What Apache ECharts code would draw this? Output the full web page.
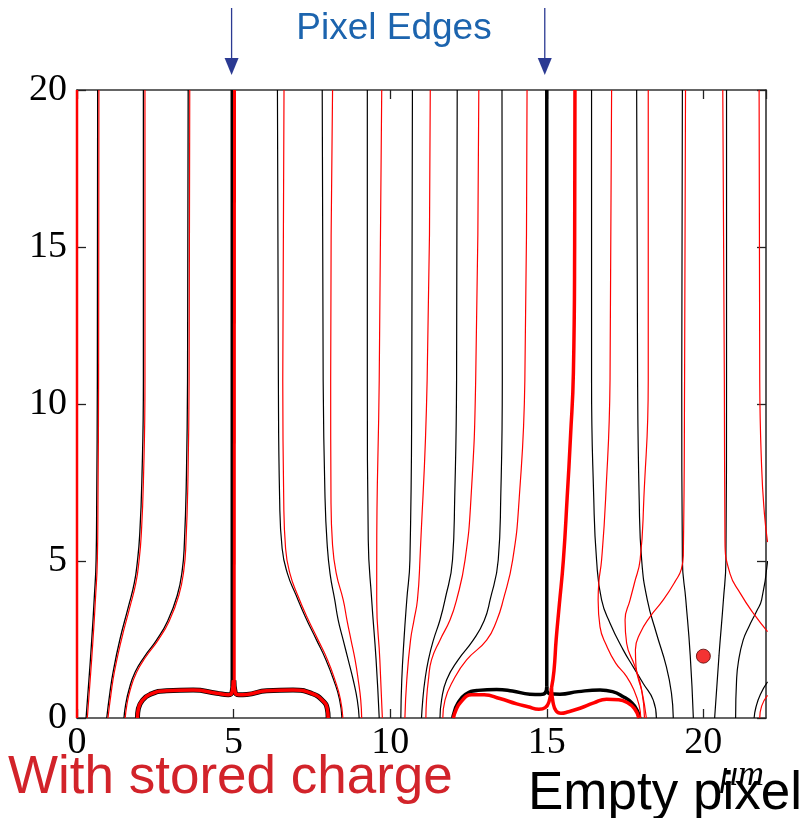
<!DOCTYPE html>
<html><head><meta charset="utf-8">
<script src="https://cdn.jsdelivr.net/npm/echarts@6/dist/echarts.min.js"></script>
<style>html,body{margin:0;padding:0;background:#fff}#c{width:801px;height:818px}</style>
</head><body><div id="c"></div><script>
// ---------- axis setup ----------
const xTicks = [0, 5, 10, 15, 20];
const yTicks = [0, 5, 10, 15, 20];
const pixelEdges = [5, 15];
const storedChargeDot = [[20.0, 1.97]];

// ---------- left pixel (with stored charge: black under red) ----------
const redAxisLine = [[0, 0], [0, 20]];
const black1 = [[0.66,20],[0.65,10.76],[0.63,7],[0.61,5.03],[0.55,3.8],[0.47,2.48],[0.38,1.2],[0.29,0]];
const red1   = [[0.70,20],[0.69,10.76],[0.67,7],[0.65,5.03],[0.59,3.8],[0.51,2.48],[0.42,1.2],[0.33,0]];
const black2 = [[2.12,20],[2.12,10.76],[2.07,7.5],[2.0,5.8],[1.93,5.0],[1.83,4.3],[1.64,3.54],[1.37,2.5],[1.16,1.5],[1.05,0.8],[0.95,0]];
const red2   = [[2.17,20],[2.17,10.76],[2.12,7.5],[2.05,5.8],[1.98,5.0],[1.88,4.3],[1.69,3.54],[1.42,2.5],[1.2,1.5],[1.09,0.8],[0.99,0]];
const black3 = [[3.55,20],[3.53,10.76],[3.49,7.5],[3.43,5.6],[3.36,4.7],[3.2,3.9],[2.9,3.1],[2.54,2.48],[2.15,1.95],[1.85,1.45],[1.66,0.9],[1.55,0.4],[1.5,0]];
const red3   = [[3.60,20],[3.58,10.76],[3.54,7.5],[3.48,5.6],[3.41,4.7],[3.25,3.9],[2.95,3.1],[2.59,2.48],[2.2,1.95],[1.9,1.45],[1.7,0.9],[1.59,0.4],[1.54,0]];
const blackEdge5 = [[4.95,20],[4.95,1.0]];
const redEdge5   = [[5.03,20],[5.02,1.0]];
const loopA_left  = [[1.93,0],[1.96,0.3],[2.08,0.55],[2.33,0.75],[2.86,0.87],[3.71,0.89],[4.46,0.79],[4.83,0.74],[4.95,0.82],[4.99,1.2]];
const loopA_right = [[5.01,1.2],[5.05,0.82],[5.17,0.74],[5.42,0.75],[6.06,0.87],[6.9,0.89],[7.5,0.78],[7.85,0.55],[7.99,0.3],[8.02,0]];

// ---------- middle lines ----------
const black4 = [[6.40,20],[6.43,10.76],[6.47,7],[6.55,5.4],[6.72,4.6],[7.0,3.9],[7.3,3.2],[7.65,2.48],[7.95,1.85],[8.2,1.2],[8.38,0.6],[8.46,0]];
const red4   = [[6.61,20],[6.57,10.76],[6.6,7],[6.66,5.4],[6.8,4.6],[7.05,3.9],[7.35,3.2],[7.7,2.48],[8.0,1.85],[8.24,1.2],[8.41,0.6],[8.49,0]];
const black5 = [[7.83,20],[7.86,10.76],[7.92,7],[7.99,5.5],[8.08,4.6],[8.23,3.76],[8.34,3.12],[8.5,2.48],[8.66,1.85],[8.82,1.21],[8.95,0.57],[9.01,0]];
const red5   = [[8.16,20],[8.1,10.76],[8.11,7],[8.16,5.5],[8.28,4.6],[8.5,3.76],[8.62,3.12],[8.75,2.48],[8.88,1.85],[8.98,1.21],[9.06,0.57],[9.09,0]];
const black6 = [[9.27,20],[9.27,10.76],[9.30,5.67],[9.41,3.76],[9.55,1.85],[9.65,0]];
const red6   = [[9.73,20],[9.65,10.76],[9.57,5.03],[9.57,3.76],[9.67,1.85],[9.75,0]];
const black7 = [[10.71,20],[10.69,10.76],[10.63,5.03],[10.53,3.76],[10.44,2.48],[10.37,1.21],[10.34,0]];
const red7   = [[11.28,20],[11.18,10.76],[10.95,5.03],[10.87,3.76],[10.76,3.12],[10.65,2.48],[10.53,1.21],[10.47,0]];
const black8 = [[12.14,20],[12.12,10.76],[12.06,7],[11.99,5.03],[11.75,3.76],[11.59,3.12],[11.38,2.48],[11.22,1.85],[11.11,1.21],[11.04,0.57],[11.0,0]];
const red8   = [[12.83,20],[12.73,10.76],[12.58,7],[12.39,5.03],[12.12,3.76],[11.91,3.12],[11.59,2.48],[11.32,1.85],[11.22,1.21],[11.16,0.57],[11.14,0]];
const black9 = [[13.57,20],[13.58,10.76],[13.53,7],[13.45,5.03],[13.19,3.76],[13.0,3.1],[12.65,2.48],[12.17,1.85],[11.8,1.21],[11.64,0.57],[11.59,0]];
const red9   = [[14.37,20],[14.3,10.76],[14.12,7],[13.91,5.03],[13.61,3.76],[13.4,3.1],[13.08,2.48],[12.44,1.85],[12.02,1.21],[11.75,0.57],[11.68,0]];

// ---------- right pixel (empty: black) vs stored charge (red) ----------
const blackEdge15 = [[15.0,20],[15.0,1.0]];
const loopB_black_left  = [[15.0,1.0],[14.95,0.8],[14.8,0.75],[14.46,0.76],[13.9,0.86],[13.4,0.91],[12.8,0.88],[12.4,0.75],[12.15,0.45],[12.02,0.1],[12.0,0]];
const loopB_black_right = [[15.0,1.0],[15.07,0.78],[15.42,0.76],[16.0,0.84],[16.7,0.89],[17.1,0.84],[17.44,0.68],[17.72,0.48],[17.88,0.25],[17.97,0]];
const redEdgeShifted = [[15.9,20],[15.89,15],[15.85,11],[15.76,9],[15.65,7],[15.53,5.03],[15.4,3.6],[15.3,2.5],[15.23,1.5],[15.15,0.95]];
const loopB_red_left  = [[15.15,0.95],[15.08,0.55],[14.95,0.33],[14.75,0.28],[14.4,0.36],[14.04,0.45],[13.5,0.62],[13.0,0.74],[12.6,0.74],[12.25,0.5],[12.08,0.2],[12.02,0]];
const loopB_red_right = [[15.15,0.95],[15.2,0.5],[15.3,0.22],[15.45,0.15],[15.7,0.2],[16.06,0.31],[16.5,0.48],[16.91,0.6],[17.3,0.58],[17.55,0.5],[17.8,0.3],[17.94,0]];
const blackA = [[16.43,20],[16.43,10.76],[16.5,7],[16.59,5.03],[16.75,3.76],[17.02,3.02],[17.44,2.17],[17.76,1.63],[18.08,1.1],[18.4,0.57],[18.5,0]];
const redA   = [[17.07,20],[17.02,10.76],[16.88,7],[16.75,5.03],[16.66,4.3],[16.64,3.76],[16.7,2.9],[16.91,2.3],[17.2,1.75],[17.55,1.32],[17.8,0.85],[17.95,0.4],[18.0,0]];
const blackB = [[17.87,20],[17.9,10.76],[17.95,7],[18.03,5.03],[18.21,3.76],[18.5,2.7],[18.82,1.63],[18.98,0.8],[19.04,0]];
const redB   = [[18.24,20],[18.24,10.76],[18.1,7],[17.98,5.03],[17.8,4.3],[17.66,3.76],[17.5,3.12],[17.55,2.38],[17.82,1.63],[18.03,0.89],[18.12,0]];
const blackC = [[19.33,20],[19.31,10.76],[19.33,5.03],[19.44,3.76],[19.58,2],[19.68,0]];
const redC   = [[19.43,20],[19.4,10.76],[19.36,5.2],[19.3,4.75],[19.1,4.35],[18.72,3.76],[18.3,3.23],[17.98,2.7],[17.83,2.17],[17.85,1.63],[18.05,0.79],[18.18,0]];
const blackD = [[20.74,20],[20.74,10.76],[20.72,5.03],[20.64,3.76],[20.5,2],[20.36,0]];
const redD   = [[20.62,20],[20.67,10.76],[20.69,5.67],[20.85,4.6],[21.18,3.97],[21.6,3.33],[22.05,2.75]];
const redE   = [[21.78,20],[21.8,10.76],[21.86,8],[21.95,6.5],[22.05,5.6]];
const blackE = [[22.05,5.0],[21.86,3.76],[21.7,3.4],[21.45,2.9],[21.27,2.48],[21.12,1.8],[21.06,1.2],[21.03,0]];
const blackArc = [[22.05,1.15],[21.82,0.75],[21.68,0.35],[21.62,0]];
const redArc   = [[22.05,0.72],[21.86,0.38],[21.8,0]];

const RED = '#ff0000', BLACK = '#000000';
function ln(data, color, width, z) {
  return { type: 'line', data: data, smooth: 0.5, symbol: 'none', silent: true,
    lineStyle: { color: color, width: width }, z: z, animation: false };
}
const series = [
  ln(redAxisLine, RED, 2.5, 3),
  ln(black1, BLACK, 1.3, 2), ln(red1, RED, 1.2, 3),
  ln(black2, BLACK, 1.3, 2), ln(red2, RED, 1.2, 3),
  ln(black3, BLACK, 1.3, 2), ln(red3, RED, 1.2, 3),
  ln(blackEdge5, BLACK, 3, 2), ln(redEdge5, RED, 3, 3),
  ln(loopA_left, BLACK, 5, 2), ln(loopA_right, BLACK, 5, 2),
  ln(loopA_left, RED, 3.5, 3), ln(loopA_right, RED, 3.5, 3),
  ln(black4, BLACK, 1.2, 2), ln(red4, RED, 1.2, 3),
  ln(black5, BLACK, 1.2, 2), ln(red5, RED, 1.2, 3),
  ln(black6, BLACK, 1.2, 2), ln(red6, RED, 1.2, 3),
  ln(black7, BLACK, 1.2, 2), ln(red7, RED, 1.2, 3),
  ln(black8, BLACK, 1.2, 2), ln(red8, RED, 1.2, 3),
  ln(black9, BLACK, 1.2, 2), ln(red9, RED, 1.2, 3),
  ln(blackEdge15, BLACK, 3.5, 2),
  ln(loopB_black_left, BLACK, 3.5, 2), ln(loopB_black_right, BLACK, 3.5, 2),
  ln(redEdgeShifted, RED, 3.5, 4),
  ln(loopB_red_left, RED, 3.5, 4), ln(loopB_red_right, RED, 3.5, 4),
  ln(blackA, BLACK, 1.2, 2), ln(redA, RED, 1.2, 3),
  ln(blackB, BLACK, 1.2, 2), ln(redB, RED, 1.2, 3),
  ln(blackC, BLACK, 1.2, 2), ln(redC, RED, 1.2, 3),
  ln(blackD, BLACK, 1.2, 2), ln(redD, RED, 1.2, 3),
  ln(blackE, BLACK, 1.2, 2), ln(redE, RED, 1.2, 3),
  ln(blackArc, BLACK, 1.2, 2), ln(redArc, RED, 1.2, 3),
  { type: 'scatter', data: storedChargeDot, symbolSize: 14, z: 6, silent: true, animation: false,
    itemStyle: { color: '#f00000', borderColor: '#550000', borderWidth: 1 } }
];

const axisCommon = {
  axisLine: { show: true, onZero: false, lineStyle: { color: '#333', width: 1.6 } },
  axisTick: { show: true, inside: true, length: 9, lineStyle: { color: '#222', width: 1.3 } },
  splitLine: { show: false }
};
const labelFont = { fontFamily: 'Liberation Serif', fontSize: 38, color: '#000' };

const chart = echarts.init(document.getElementById('c'), null, { renderer: 'canvas' });
chart.setOption({
  animation: false,
  grid: { left: 77, right: 35, top: 90, bottom: 100, containLabel: false },
  xAxis: [
    Object.assign({ type: 'value', min: 0, max: 22, interval: 5, position: 'bottom',
      axisLabel: Object.assign({ margin: 6, showMaxLabel: false, formatter: v => xTicks.includes(v) ? String(v) : '' }, labelFont) }, axisCommon),
    Object.assign({ type: 'value', min: 0, max: 22, interval: 5, position: 'top',
      axisLabel: { show: false } }, axisCommon)
  ],
  yAxis: [
    Object.assign({ type: 'value', min: 0, max: 20, interval: 5, position: 'left',
      axisLabel: Object.assign({ margin: 10, formatter: v => yTicks.includes(v) ? String(v) : '' }, labelFont) }, axisCommon),
    Object.assign({ type: 'value', min: 0, max: 20, interval: 5, position: 'right',
      axisLabel: { show: false } }, axisCommon)
  ],
  series: series
});

// annotations
const graphics = [];
pixelEdges.forEach(function (v) {
  const px = chart.convertToPixel({ xAxisIndex: 0 }, v) - 2;
  graphics.push({ type: 'line', shape: { x1: px, y1: 8, x2: px, y2: 60 }, style: { stroke: '#2b3a92', lineWidth: 1.3 }, z: 10 });
  graphics.push({ type: 'polygon', shape: { points: [[px - 7, 58], [px + 7, 58], [px, 75]] }, style: { fill: '#2b3a92' }, z: 10 });
});
graphics.push({ type: 'text', x: 394, y: 29, z: 10,
  style: { text: 'Pixel Edges', fill: '#1c64ae', font: '37px "Liberation Sans"', textAlign: 'center', textVerticalAlign: 'middle' } });
graphics.push({ type: 'text', x: 742, y: 776, z: 9,
  style: { text: 'μm', fill: '#000', font: 'italic 36px "Liberation Serif"', textAlign: 'center', textVerticalAlign: 'middle' } });
graphics.push({ type: 'text', x: 8, y: 778, z: 10,
  style: { text: 'With stored charge', fill: '#d2232a', font: '53px "Liberation Sans"', textAlign: 'left', textVerticalAlign: 'middle' } });
graphics.push({ type: 'text', x: 528, y: 794, z: 10,
  style: { text: 'Empty pixel', fill: '#000', font: '53px "Liberation Sans"', textAlign: 'left', textVerticalAlign: 'middle' } });
chart.setOption({ graphic: graphics });
</script></body></html>
